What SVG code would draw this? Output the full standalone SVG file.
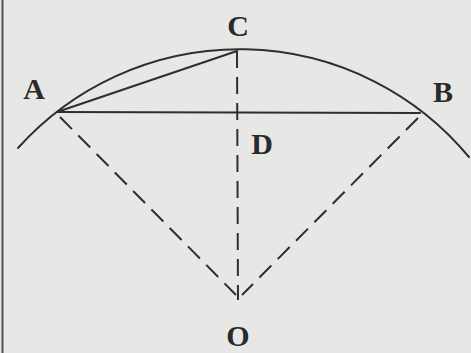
<svg xmlns="http://www.w3.org/2000/svg" width="471" height="353" viewBox="0 0 471 353">
<style>
.s{fill:none;stroke:#2e2e2e;stroke-width:2;stroke-linecap:round}
.d{fill:none;stroke:#2e2e2e;stroke-width:2;stroke-dasharray:17 9}
.t{font-family:"Liberation Serif",serif;font-weight:bold;font-size:30px;fill:#2a2a2a;text-anchor:middle}
</style>
<rect x="0" y="0" width="471" height="353" fill="#e7e7e5"/>
<line x1="2.5" y1="0" x2="2.5" y2="353" stroke="#555" stroke-width="2"/>
<g id="connectors">
<path class="s" d="M18,148 A298,298 0 0 1 469,157"/>
<line class="s" x1="57" y1="112" x2="420" y2="113"/>
<line class="s" x1="57" y1="112" x2="237" y2="51"/>
<line class="d" x1="237" y1="51" x2="238" y2="300"/>
<line class="d" x1="60" y1="117" x2="236" y2="295"/>
<line class="d" x1="418" y1="118" x2="242" y2="295"/>
</g>
<g id="A"><text class="t" x="34" y="99">A</text></g>
<g id="B"><text class="t" x="443" y="102">B</text></g>
<g id="C"><text class="t" x="238" y="36">C</text></g>
<g id="D"><text class="t" x="262" y="154">D</text></g>
<g id="O"><text class="t" x="238" y="346">O</text></g>
</svg>
